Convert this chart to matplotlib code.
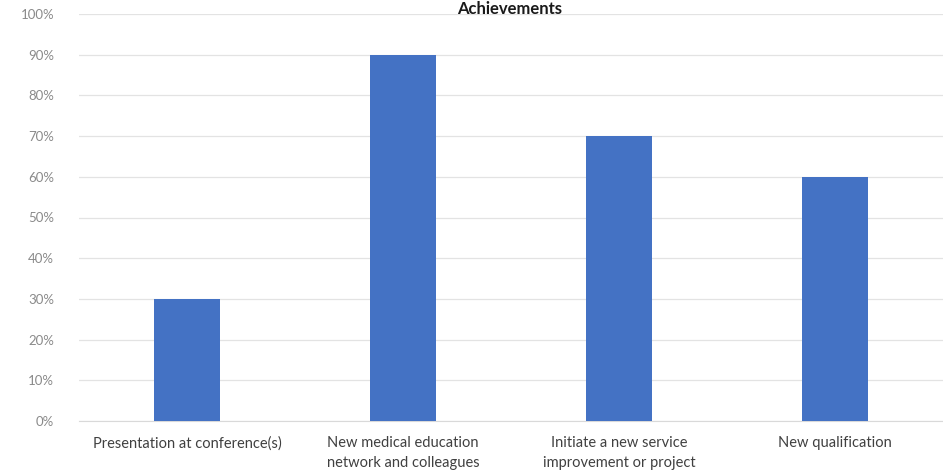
import matplotlib
matplotlib.use("Agg")
import matplotlib.pyplot as plt
from matplotlib.ticker import PercentFormatter

categories = ["Presentation at conference(s)",
              "New medical education\nnetwork and colleagues",
              "Initiate a new service\nimprovement or project",
              "New qualification"]
values = [30, 90, 70, 60]
yticks = list(range(0, 101, 10))
title = "Achievements"

plt.rcParams['font.family'] = ['Lato', 'DejaVu Sans']

fig = plt.figure(figsize=(9.43, 4.72), dpi=100)
ax = fig.add_axes([79/943, 1-421/472, 1-79/943, (421-14)/472])
x = range(len(categories))
ax.bar(x, values, width=0.31, color="#4472C4", zorder=3)
ax.set_ylim(0, 100)
ax.set_xlim(-0.5, 3.5)
ax.set_yticks(yticks)
ax.yaxis.set_major_formatter(PercentFormatter(decimals=0))
ax.set_xticks(list(x))
ax.set_xticklabels(categories, fontsize=10.5, color="#404040", linespacing=1.55)
ax.tick_params(axis='y', labelsize=9.5, labelcolor="#8a8a8a", length=0, pad=18)
ax.tick_params(axis='x', length=0, pad=11)
ax.grid(axis='y', color="#e3e3e3", linewidth=0.9, zorder=0)
for s in ["top", "right", "left"]:
    ax.spines[s].set_visible(False)
ax.spines["bottom"].set_color("#d9d9d9")
fig.text(510/943, 1-1/472, title, ha="center", va="top", fontsize=12, fontweight="bold", color="#1a1a1a")
fig.savefig("out.png", dpi=100)
